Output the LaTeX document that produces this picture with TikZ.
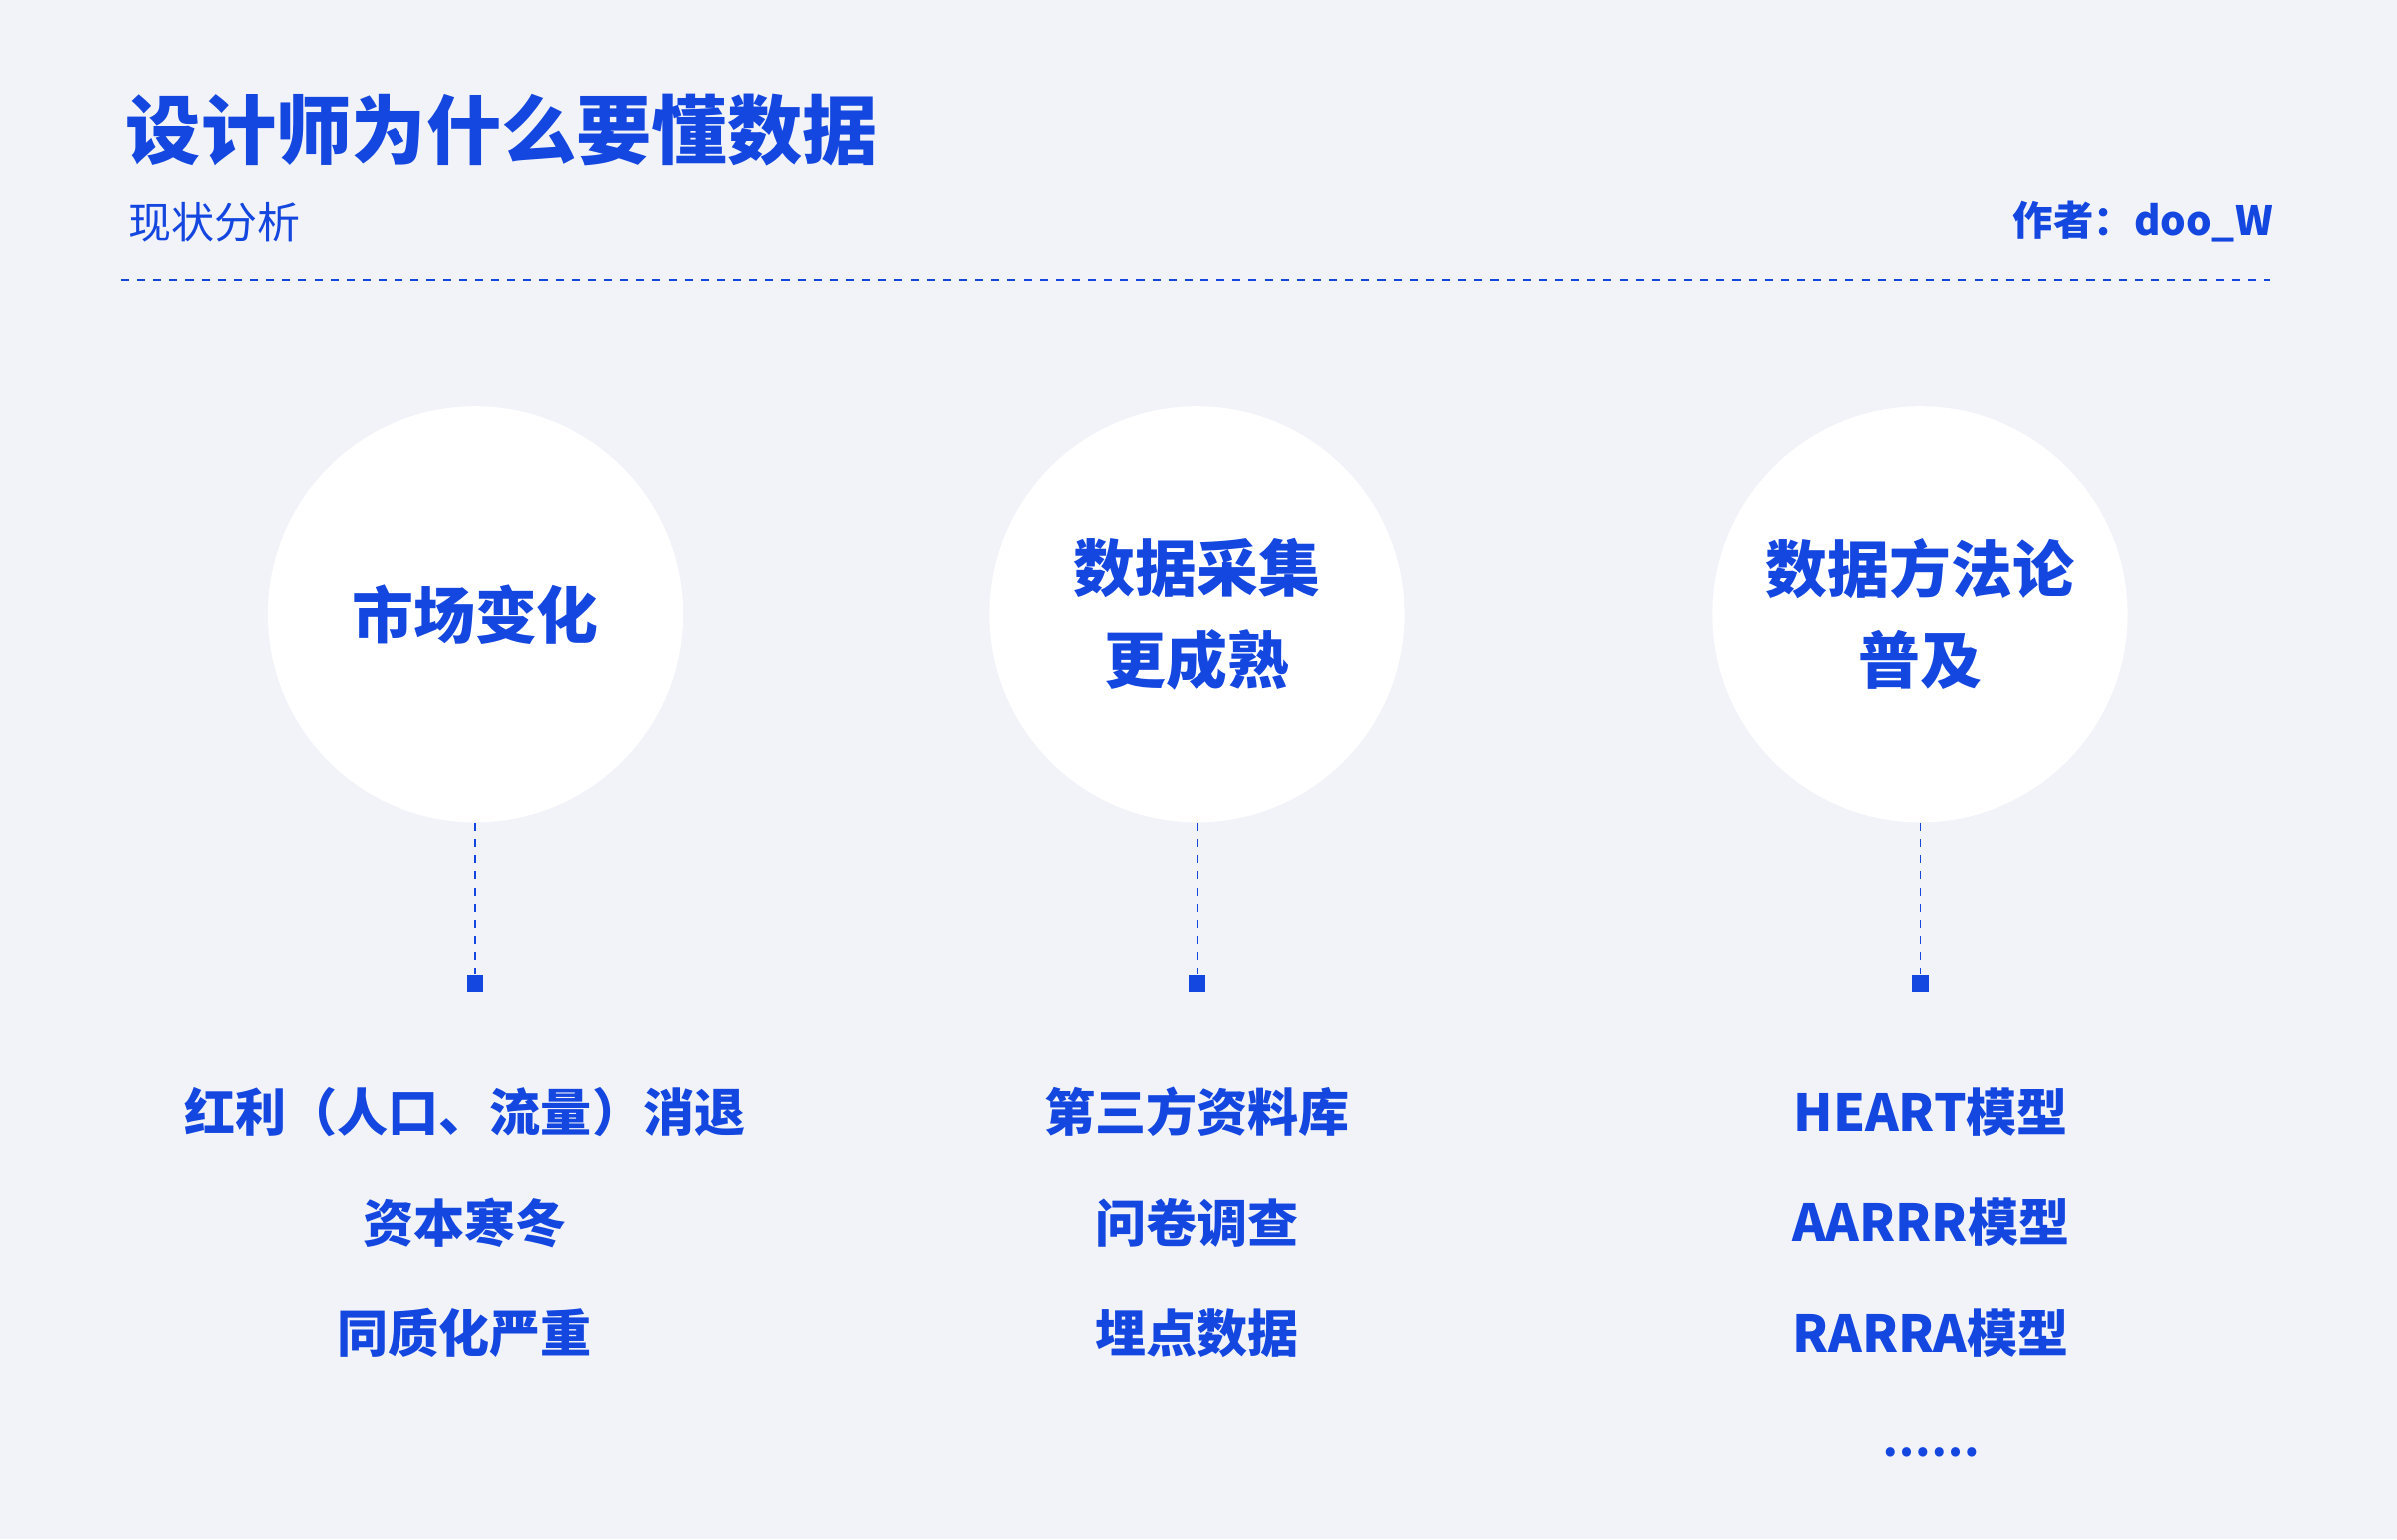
\documentclass[tikz,border=0pt]{standalone}
\usepackage{fontspec}
\setmainfont{Noto Sans CJK SC}
\definecolor{bg}{HTML}{F1F3F8}
\definecolor{bl}{HTML}{1446E0}
\begin{document}
\begin{tikzpicture}[x=0.02cm,y=-0.02cm,
  circ/.style={circle,fill=white,minimum size=5.44cm,inner sep=0pt,text=bl,font=\fontsize{23}{34}\selectfont\bfseries,align=center},
  item/.style={text=bl,font=\fontsize{19}{22}\selectfont\bfseries},
  dot/.style={fill=bl,minimum size=0.22cm,inner sep=0pt},
  dl/.style={bl,dashed,line width=0.7pt}]
\fill[bg] (0,0) rectangle (1568,1007);
\useasboundingbox (0,0) rectangle (1568,1007);
\node[anchor=west,text=bl,font=\fontsize{28}{30}\selectfont\bfseries] (title) at (76,85) {设计师为什么要懂数据};
\node[anchor=west,text=bl,font=\fontsize{16}{18}\selectfont] (sub) at (78,145) {现状分析};
\node[anchor=east,text=bl,font=\fontsize{15}{18}\selectfont\bfseries] (auth) at (1493,145) {作者：doo\_W};
\coordinate (h1) at (79,183); \coordinate (h2) at (1485,183);
\draw[dl] (h1) -- (h2);
\foreach \i/\x/\t in {a/311/市场变化,b/783/{数据采集\\更成熟},c/1256/{数据方法论\\普及}}{
  \node[circ] (c\i) at (\x,402) {\t};
  \node[dot] (d\i) at (\x,643) {};
  \draw[dl] (c\i.south) -- (d\i.north);
}
\node[item] (a1) at (304,727) {红利（人口、流量）消退};
\node[item] (a2) at (304,800) {资本寒冬};
\node[item] (a3) at (304,872) {同质化严重};
\node[item] (b1) at (783,727) {第三方资料库};
\node[item] (b2) at (783,800) {问卷调查};
\node[item] (b3) at (783,872) {埋点数据};
\node[item] (r1) at (1263,727) {HEART模型};
\node[item] (r2) at (1263,800) {AARRR模型};
\node[item] (r3) at (1263,872) {RARRA模型};
\node[item,font=\fontsize{16}{18}\selectfont\bfseries] (r4) at (1263,950) {……};
\end{tikzpicture}
\end{document}
